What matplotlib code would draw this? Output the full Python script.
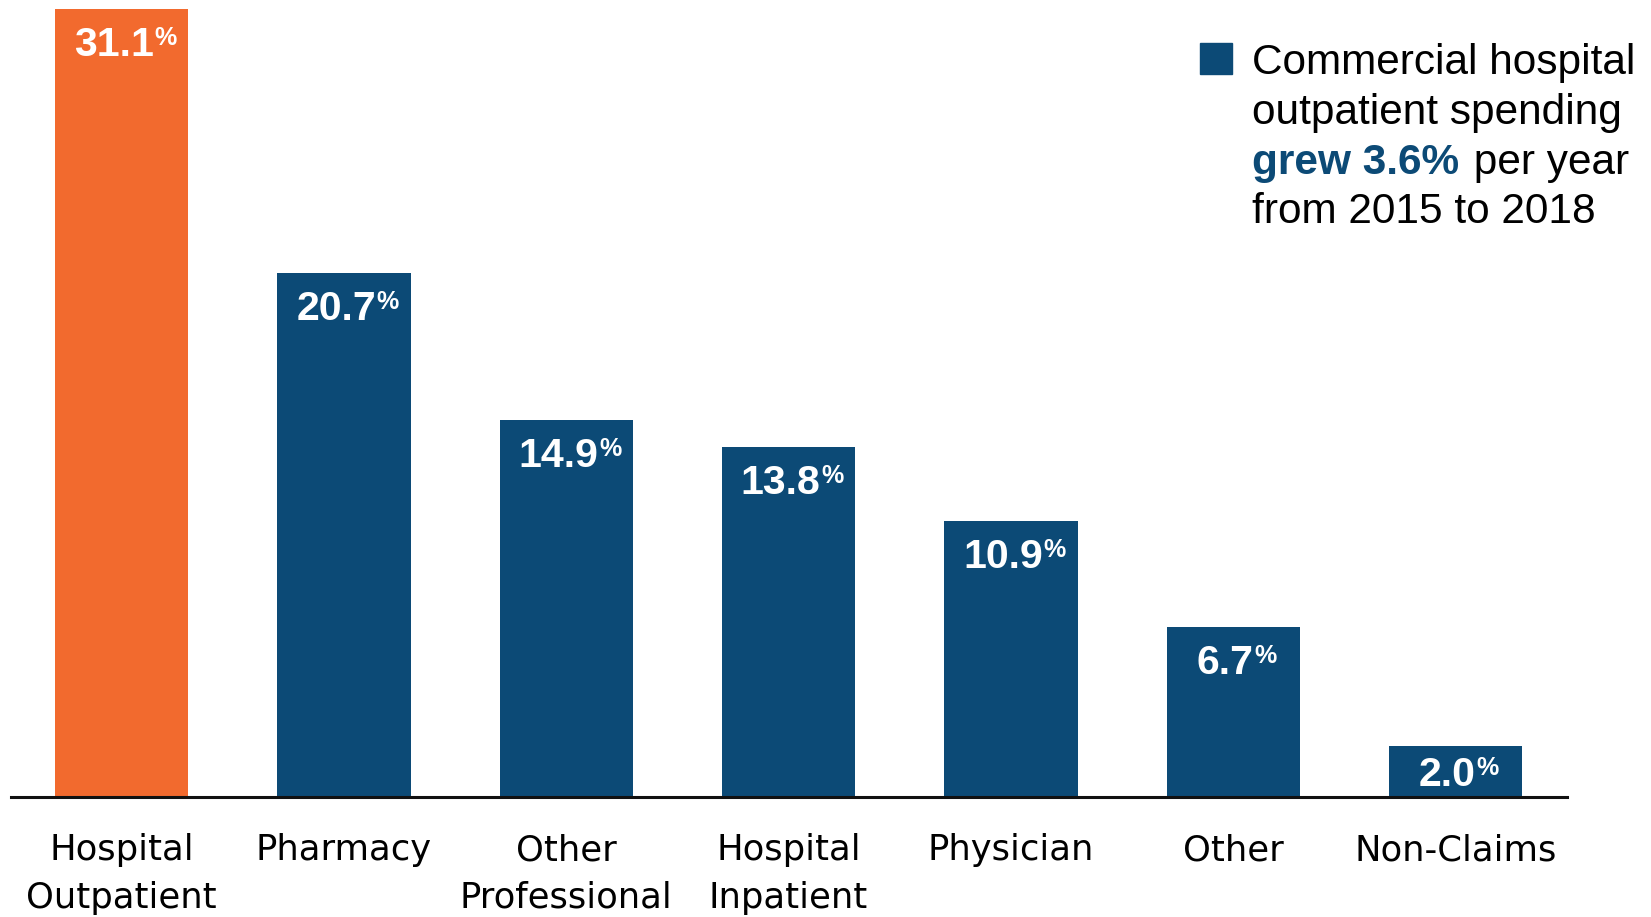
import matplotlib.pyplot as plt
from matplotlib.patches import Rectangle


categories = ["Hospital\nOutpatient", "Pharmacy", "Other\nProfessional", "Hospital\nInpatient",
              "Physician", "Other", "Non-Claims"]
shares = [31.1, 20.7, 14.9, 13.8, 10.9, 6.7, 2.0]
highlight = "Hospital\nOutpatient"

note_lines = ["Commercial hospital", "outpatient spending", "per year", "from 2015 to 2018"]
note_bold = "grew 3.6%"

ORANGE = "#F26A2E"
BLUE = "#0C4A76"

W, H = 1651, 917


def fx(px):
    return px / W


def fy(px_from_top):
    return 1 - px_from_top / H


def draw_bars(ax):
    colors = [ORANGE if c == highlight else BLUE for c in categories]
    x = list(range(len(categories)))
    ax.bar(x, shares, width=0.6, color=colors, zorder=2)

    # value labels: number + small superscript %
    for i, v in enumerate(shares):
        if v < 4:
            # short bar: centre the label inside it
            xy, off = (i, v / 2), (-8, -14)
        else:
            xy, off = (i, v), (-8, -47)
        t = ax.annotate(f"{v:.1f}", xy=xy, xytext=off, textcoords="offset pixels",
                        ha="center", va="baseline", color="white", fontsize=29.5,
                        fontweight="bold", family="Liberation Sans", zorder=4)
        ax.annotate("%", xy=(1, 1), xycoords=t, xytext=(0.5, 0), textcoords="offset points",
                    ha="left", va="top", color="white", fontsize=18,
                    fontweight="bold", family="Liberation Sans", zorder=4)

    ax.set_xlim(-0.5, 6.5)
    ax.set_ylim(0, 31.1)
    ax.set_xticks(x)
    ax.set_xticklabels(categories, fontsize=25.5, linespacing=1.5, family="DejaVu Sans")
    ax.tick_params(axis="x", length=0, pad=26)
    ax.set_yticks([])
    for side in ["top", "right", "left"]:
        ax.spines[side].set_visible(False)
    ax.spines["bottom"].set_linewidth(2.2)
    ax.spines["bottom"].set_color("#111111")
    ax.spines["bottom"].set_zorder(3)


def draw_note(fig):
    # blue square key
    fig.add_artist(Rectangle((fx(1200), fy(74)), fx(32), 31 / H, transform=fig.transFigure,
                             color=BLUE))
    left = fx(1252)
    kw = dict(fontsize=30.5, family="Liberation Sans", va="baseline", ha="left", color="black")
    fig.text(left, fy(74), note_lines[0], **kw)
    fig.text(left, fy(124), note_lines[1], **kw)
    bold = fig.text(left, fy(174), note_bold, fontsize=30.5, family="Liberation Sans",
                    fontweight="bold", color=BLUE, va="baseline", ha="left")
    fig.add_artist(plt.Annotation(" " + note_lines[2], xy=(1, fy(174)),
                                  xycoords=(bold, "figure fraction"),
                                  xytext=(3, 0), textcoords="offset pixels", **kw))
    fig.text(left, fy(223), note_lines[3], **kw)


fig = plt.figure(figsize=(16.51, 9.17), dpi=100)
ax = fig.add_axes([fx(10.5), fy(797), fx(1566.7 - 10.5), (797 - 9.3) / H])
draw_bars(ax)
draw_note(fig)

fig.savefig("out.png", dpi=100)
